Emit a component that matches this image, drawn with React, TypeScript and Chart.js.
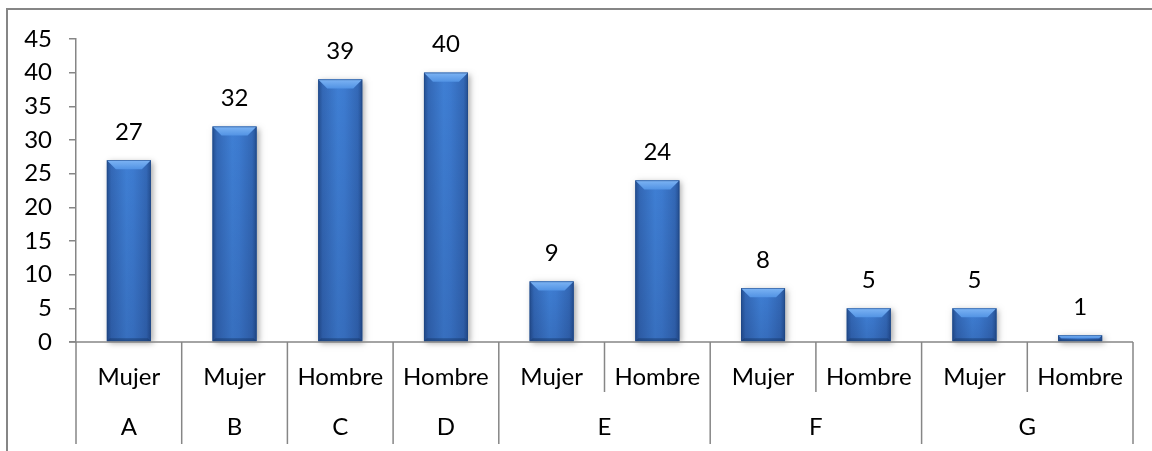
import React, { useEffect, useRef } from 'react';
import { Chart, registerables } from 'chart.js';

Chart.register(...registerables);

const groups = ['A', 'B', 'C', 'D', 'E', 'E', 'F', 'F', 'G', 'G'];
const genders = ['Mujer', 'Mujer', 'Hombre', 'Hombre', 'Mujer', 'Hombre', 'Mujer', 'Hombre', 'Mujer', 'Hombre'];
const values = [27, 32, 39, 40, 9, 24, 8, 5, 5, 1];
const yMax = 45;
const yStep = 5;

const FONT = 'Lato';
const FONT_SIZE = 24;
const AXIS_COLOR = '#868686';

const framePlugin = {
  id: 'frame',
  beforeDraw(chart: any) {
    const { ctx, width, height } = chart;
    ctx.save();
    ctx.fillStyle = '#ffffff';
    ctx.fillRect(0, 0, width, height);
    ctx.strokeStyle = AXIS_COLOR;
    ctx.lineWidth = 2;
    ctx.strokeRect(7, 9, width + 50, height + 50);
    ctx.restore();
  },
};

const barsPlugin = {
  id: 'bevelBars',
  afterDatasetsDraw(chart: any) {
    const { ctx } = chart;
    const meta = chart.getDatasetMeta(0);
    ctx.save();
    meta.data.forEach((el: any, i: number) => {
      const { x, y, base, width } = el.getProps(['x', 'y', 'base', 'width'], true);
      const l = x - width / 2;
      const r = x + width / 2;
      const t = Math.min(y, base);
      const b = Math.max(y, base);
      const h = b - t;
      // shadow
      ctx.save();
      ctx.shadowColor = 'rgba(0,0,0,0.35)';
      ctx.shadowBlur = 6;
      ctx.shadowOffsetX = 2;
      ctx.shadowOffsetY = 2;
      ctx.fillStyle = '#2f66b3';
      ctx.fillRect(l, t, width, h);
      ctx.restore();
      // body gradient
      const g = ctx.createLinearGradient(l, 0, r, 0);
      g.addColorStop(0, '#244f91');
      g.addColorStop(0.1, '#3368b6');
      g.addColorStop(0.45, '#3f7fd4');
      g.addColorStop(0.6, '#3d7bd0');
      g.addColorStop(0.9, '#3368b6');
      g.addColorStop(1, '#244f91');
      ctx.fillStyle = g;
      ctx.fillRect(l, t, width, h);
      // vertical darkening
      const gv = ctx.createLinearGradient(0, t, 0, b);
      gv.addColorStop(0, 'rgba(0,0,40,0)');
      gv.addColorStop(1, 'rgba(0,0,40,0.12)');
      ctx.fillStyle = gv;
      ctx.fillRect(l, t, width, h);
      const bv = Math.min(9, h / 2);
      // top bevel
      const gt = ctx.createLinearGradient(0, t, 0, t + bv);
      gt.addColorStop(0, '#7db4f4');
      gt.addColorStop(1, '#5293e4');
      ctx.fillStyle = gt;
      ctx.beginPath();
      ctx.moveTo(l, t);
      ctx.lineTo(r, t);
      ctx.lineTo(r - bv, t + bv);
      ctx.lineTo(l + bv, t + bv);
      ctx.closePath();
      ctx.fill();
      // bottom bevel
      const bb = Math.min(3, h / 3);
      ctx.fillStyle = 'rgba(20,50,100,0.45)';
      ctx.beginPath();
      ctx.moveTo(l, b);
      ctx.lineTo(r, b);
      ctx.lineTo(r - bb, b - bb);
      ctx.lineTo(l + bb, b - bb);
      ctx.closePath();
      ctx.fill();
      // outline
      ctx.strokeStyle = 'rgba(30,70,130,0.6)';
      ctx.lineWidth = 0.8;
      ctx.strokeRect(l + 0.4, t + 0.4, width - 0.8, h - 0.8);
      // label
      ctx.fillStyle = '#000000';
      ctx.font = `${FONT_SIZE}px ${FONT}`;
      ctx.textAlign = 'center';
      ctx.textBaseline = 'middle';
      ctx.fillText(String(values[i]), x, t - 28);
    });
    ctx.restore();
  },
};

const xAxisPlugin = {
  id: 'twoLevelX',
  afterDraw(chart: any) {
    const { ctx, chartArea } = chart;
    const xs = chart.scales.x;
    const n = genders.length;
    const left = chartArea.left;
    const right = chartArea.right;
    const w = (right - left) / n;
    const axisY = chartArea.bottom;
    ctx.save();
    ctx.strokeStyle = AXIS_COLOR;
    ctx.lineWidth = 1.5;
    ctx.beginPath();
    ctx.moveTo(left - 7, axisY);
    ctx.lineTo(right, axisY);
    ctx.stroke();
    for (let i = 0; i <= n; i++) {
      const px = i === n ? xs.getPixelForValue(n - 1) + w / 2 : xs.getPixelForValue(i) - w / 2;
      const isGroup = i === 0 || i === n || groups[i - 1] !== groups[i];
      ctx.beginPath();
      ctx.moveTo(px, axisY);
      ctx.lineTo(px, isGroup ? axisY + 102 : axisY + 50);
      ctx.stroke();
    }
    ctx.fillStyle = '#000000';
    ctx.font = `${FONT_SIZE}px ${FONT}`;
    ctx.textAlign = 'center';
    ctx.textBaseline = 'middle';
    genders.forEach((g, i) => {
      ctx.fillText(g, xs.getPixelForValue(i), axisY + 35);
    });
    let start = 0;
    for (let i = 1; i <= n; i++) {
      if (i === n || groups[i] !== groups[start]) {
        const cx = (xs.getPixelForValue(start) + xs.getPixelForValue(i - 1)) / 2;
        ctx.fillText(groups[start], cx, axisY + 85);
        start = i;
      }
    }
    ctx.restore();
  },
};

export default function App() {
  const ref = useRef<HTMLCanvasElement | null>(null);
  useEffect(() => {
    document.body.style.margin = '0';
    if (!ref.current) return;
    const chart = new Chart(ref.current, {
      type: 'bar',
      data: {
        labels: genders.map((g, i) => `${g} ${groups[i]}`),
        datasets: [
          {
            data: values,
            backgroundColor: 'rgba(0,0,0,0)',
            borderWidth: 0,
            barPercentage: 0.416,
            categoryPercentage: 1,
          },
        ],
      },
      options: {
        animation: false,
        responsive: false,
        events: [],
        layout: { padding: { left: 6, right: 19, top: 39, bottom: 0 } },
        plugins: { legend: { display: false }, tooltip: { enabled: false } },
        scales: {
          x: {
            grid: { display: false },
            border: { display: false },
            ticks: { display: false },
            afterFit: (s: any) => {
              s.height = 109;
            },
          },
          y: {
            min: 0,
            max: yMax,
            ticks: {
              stepSize: yStep,
              color: '#000000',
              padding: 17,
              font: { family: FONT, size: FONT_SIZE },
            },
            grid: { drawOnChartArea: false, drawTicks: true, tickLength: 7, color: AXIS_COLOR, lineWidth: 1.5 },
            border: { display: true, color: AXIS_COLOR, width: 1.5 },
            afterFit: (s: any) => {
              s.width = 70;
            },
          },
        },
      },
      plugins: [framePlugin, barsPlugin, xAxisPlugin],
    });
    return () => chart.destroy();
  }, []);
  return (
    <div style={{ width: 1152, height: 451 }}>
      <canvas ref={ref} width={1152} height={451} style={{ display: 'block' }} />
    </div>
  );
}
